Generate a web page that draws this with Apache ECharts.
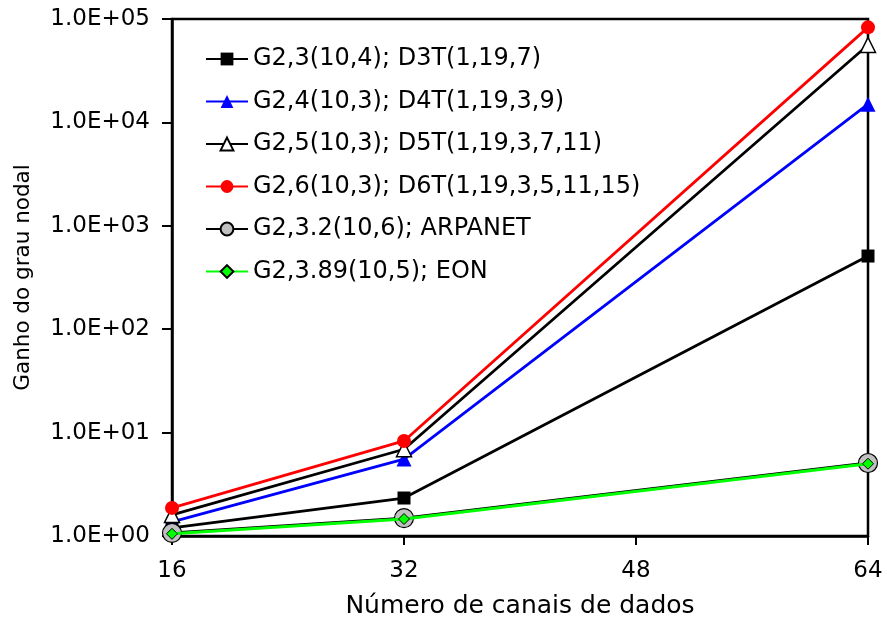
<!DOCTYPE html>
<html>
<head>
<meta charset="utf-8">
<script src="https://cdn.jsdelivr.net/npm/echarts@6/dist/echarts.min.js"></script>
<style>
html,body{margin:0;padding:0;background:#fff;}
#c{width:887px;height:626px;}
</style>
</head>
<body>
<div id="c"></div>
<script>
const channels = [16, 32, 64];
const seriesNames = [
  'G2,3(10,4); D3T(1,19,7)',
  'G2,4(10,3); D4T(1,19,3,9)',
  'G2,5(10,3); D5T(1,19,3,7,11)',
  'G2,6(10,3); D6T(1,19,3,5,11,15)',
  'G2,3.2(10,6); ARPANET',
  'G2,3.89(10,5); EON'
];
const g23 = [1.2, 2.33, 510];
const g24 = [1.37, 5.55, 15000];
const g25 = [1.6, 6.9, 56000];
const g26 = [1.87, 8.3, 83000];
const arpanet = [1.07, 1.49, 5.08];
const eon = [1.05, 1.46, 5.0];
const xTicks = [16, 32, 48, 64];

const FONT = '"DejaVu Sans", "Liberation Sans", Arial, sans-serif';
function pairs(vals){ return channels.map((c,i)=>[c, vals[i]]); }

const chart = echarts.init(document.getElementById('c'), null, {renderer:'canvas'});
chart.setOption({
  animation:false,
  backgroundColor:'#fff',
  textStyle:{fontFamily:FONT},
  grid:{left:172, right:19, top:19, bottom:90, show:true, borderColor:'#000', borderWidth:2.5},
  legend:{
    orient:'vertical', left:205, top:47, padding:0, itemWidth:42, itemHeight:16, itemGap:18.5,
    textStyle:{fontFamily:FONT, fontSize:24, color:'#000'},
    data:seriesNames
  },
  xAxis:{
    type:'value', min:16, max:64, interval:16,
    name:'Número de canais de dados', nameLocation:'middle', nameGap:58,
    nameTextStyle:{fontFamily:FONT, fontSize:25, color:'#000'},
    axisLine:{lineStyle:{color:'#000', width:2.5}},
    axisTick:{show:true, inside:false, length:9, lineStyle:{color:'#000', width:2}},
    axisLabel:{fontFamily:FONT, fontSize:23, color:'#000', margin:24,
      formatter:v=>xTicks.includes(v)?String(v):''},
    splitLine:{show:false}
  },
  yAxis:{
    type:'log', logBase:10, min:1, max:100000,
    name:'Ganho do grau nodal', nameLocation:'middle', nameGap:138,
    nameTextStyle:{fontFamily:FONT, fontSize:21.5, color:'#000'},
    axisLine:{lineStyle:{color:'#000', width:2.5}},
    axisTick:{show:true, inside:false, length:10, lineStyle:{color:'#000', width:2}},
    minorTick:{show:false},
    axisLabel:{fontFamily:FONT, fontSize:23, color:'#000', margin:22,
      formatter:v=>{const e=Math.round(Math.log10(v)); return '1.0E+'+(e<10?'0':'')+e;}},
    splitLine:{show:false}
  },
  series:[
    {name:seriesNames[0], type:'line', data:pairs(g23), symbol:'rect', symbolSize:13,
      lineStyle:{color:'#000', width:2.8}, itemStyle:{color:'#000'}, z:3},
    {name:seriesNames[1], type:'line', data:pairs(g24), symbol:'triangle', symbolSize:15,
      lineStyle:{color:'#0000ff', width:2.8}, itemStyle:{color:'#0000ff'}, z:4},
    {name:seriesNames[2], type:'line', data:pairs(g25), symbol:'triangle', symbolSize:15,
      lineStyle:{color:'#000', width:2.8}, itemStyle:{color:'#fff', borderColor:'#000', borderWidth:1.5}, z:5},
    {name:seriesNames[3], type:'line', data:pairs(g26), symbol:'circle', symbolSize:14,
      lineStyle:{color:'#ff0000', width:2.8}, itemStyle:{color:'#ff0000'}, z:6},
    {name:seriesNames[4], type:'line', data:pairs(arpanet), symbol:'circle', symbolSize:19,
      lineStyle:{color:'#000', width:2.8}, itemStyle:{color:'#c0c0c0', borderColor:'#000', borderWidth:1.2}, z:7},
    {name:seriesNames[5], type:'line', data:pairs(eon), symbol:'diamond', symbolSize:11,
      lineStyle:{color:'#00ff00', width:3}, itemStyle:{color:'#00ff00', borderColor:'#000', borderWidth:1}, z:8}
  ]
});
</script>
</body>
</html>
